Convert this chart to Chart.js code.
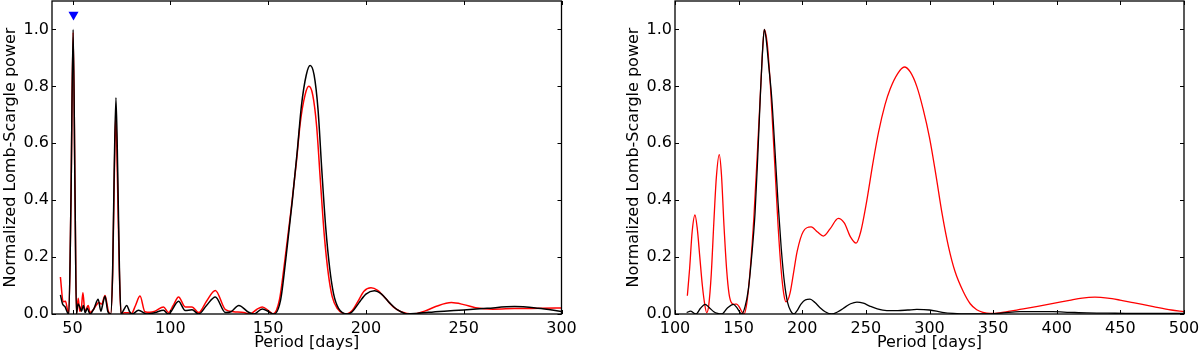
<!DOCTYPE html>
<html>
<head>
<meta charset="utf-8">
<script src="https://cdn.jsdelivr.net/npm/chart.js@4/dist/chart.umd.min.js"></script>
<style>
  body { margin: 0; background: #fff; }
  #wrap { position: relative; width: 1200px; height: 353px; }
  canvas { position: absolute; top: 0; }
  #left { left: 0; }
  #right { left: 600px; }
</style>
</head>
<body>
<div id="wrap">
  <canvas id="left" width="600" height="353"></canvas>
  <canvas id="right" width="600" height="353"></canvas>
</div>
<script>
// Left panel: periods 40-300 d
const leftTicksX = [50, 100, 150, 200, 250, 300];
const leftBlackP = [43.8, 44.9, 46.2, 47.4, 48.1, 49.2, 50.3, 51.3, 52.0, 52.8, 53.7, 54.6, 55.5, 56.5, 57.5, 59.0, 61.0, 63.1, 64.5, 65.3, 66.6, 68.0, 69.5, 70.5, 71.3, 72.2, 73.1, 74.0, 74.8, 76.2, 77.7, 79.2, 80.6, 83.7, 88.0, 92.2, 96.5, 99.0, 104.2, 107.6, 111.1, 114.5, 118.5, 123.0, 128.2, 131.0, 135.0, 140.0, 142.7, 147.0, 151.0, 153.0, 156.4, 159.0, 162.4, 165.0, 167.0, 169.5, 171.5, 173.5, 175.5, 177.5, 179.5, 181.5, 183.5, 186.0, 190.6, 193.0, 196.5, 200.0, 204.3, 208.0, 212.0, 216.0, 221.4, 226.0, 232.0, 240.0, 250.0, 262.0, 276.0, 288.0, 300.0];
const leftBlackPow = [0.067, 0.035, 0.025, 0.005, 0.0, 0.4, 1.0, 0.4, 0.0, 0.035, 0.025, 0.01, 0.03, 0.005, 0.02, 0.0, 0.02, 0.052, 0.01, 0.03, 0.062, 0.01, 0.0, 0.15, 0.5, 0.76, 0.5, 0.15, 0.0, 0.015, 0.03, 0.008, 0.0, 0.013, 0.0, 0.005, 0.013, 0.0, 0.045, 0.012, 0.015, 0.0, 0.03, 0.06, 0.005, 0.008, 0.03, 0.006, 0.0, 0.018, 0.005, 0.0, 0.05, 0.19, 0.4, 0.58, 0.73, 0.84, 0.873, 0.84, 0.72, 0.5, 0.3, 0.16, 0.07, 0.02, 0.0, 0.008, 0.04, 0.07, 0.082, 0.07, 0.04, 0.015, 0.0, 0.002, 0.006, 0.01, 0.014, 0.02, 0.026, 0.02, 0.009];
const leftRedP = [43.8, 45.2, 46.4, 47.4, 48.1, 49.2, 50.3, 51.3, 52.0, 52.9, 53.7, 54.5, 55.3, 56.3, 57.2, 58.0, 59.0, 60.6, 62.0, 63.5, 64.9, 66.6, 67.5, 68.3, 69.5, 70.5, 71.3, 72.1, 73.0, 74.0, 74.8, 76.5, 78.5, 80.0, 82.2, 84.5, 87.0, 89.5, 92.2, 96.5, 99.0, 101.5, 104.2, 107.6, 111.1, 114.5, 118.5, 123.0, 128.2, 132.4, 137.6, 140.5, 144.0, 147.0, 150.5, 152.5, 155.8, 158.4, 161.8, 164.4, 166.4, 168.9, 170.8, 172.8, 174.8, 176.8, 178.8, 180.8, 182.8, 185.3, 190.2, 193.0, 196.0, 199.0, 202.6, 206.0, 210.0, 214.0, 218.0, 224.0, 230.0, 236.0, 243.7, 250.0, 256.0, 265.0, 276.0, 290.0, 300.0];
const leftRedPow = [0.13, 0.043, 0.045, 0.015, 0.0, 0.4, 0.99, 0.4, 0.0, 0.055, 0.01, 0.02, 0.075, 0.01, 0.02, 0.03, 0.005, 0.015, 0.03, 0.04, 0.035, 0.065, 0.04, 0.01, 0.0, 0.14, 0.46, 0.70, 0.46, 0.13, 0.0, 0.004, 0.004, 0.0, 0.03, 0.063, 0.008, 0.006, 0.01, 0.025, 0.005, 0.03, 0.06, 0.025, 0.025, 0.005, 0.045, 0.083, 0.015, 0.008, 0.005, 0.0, 0.015, 0.025, 0.01, 0.0, 0.05, 0.18, 0.37, 0.53, 0.67, 0.77, 0.80, 0.77, 0.66, 0.46, 0.27, 0.14, 0.06, 0.02, 0.0, 0.012, 0.045, 0.08, 0.092, 0.083, 0.055, 0.025, 0.008, 0.0, 0.01, 0.027, 0.04, 0.033, 0.022, 0.017, 0.019, 0.02, 0.021];
const markerP = [50.5];
const markerPow = [1.052];

// Right panel: periods 100-500 d
const rightTicksX = [100, 150, 200, 250, 300, 350, 400, 450, 500];
const rightBlackP = [109.2, 112.3, 114.5, 116.5, 120, 123.6, 127, 130.5, 133.5, 136.7, 141, 145.8, 149, 152.4, 155, 157.6, 160, 162.9, 165, 167, 168.5, 170.2, 171.8, 173.5, 176, 178.5, 181, 183.5, 186, 188.5, 191, 193.5, 196, 199, 202.5, 206.1, 210, 214, 218, 223.2, 228, 234, 238, 243, 248, 253, 259, 266.4, 275, 283, 290, 300, 310, 318.7, 330, 345, 358, 371, 385, 397, 410, 423.5, 440, 460, 480, 500];
const rightBlackPow = [0.005, 0.01, 0.004, 0.0, 0.02, 0.034, 0.022, 0.008, 0.002, 0.0, 0.02, 0.034, 0.02, 0.0, 0.025, 0.085, 0.19, 0.354, 0.55, 0.76, 0.9, 1.0, 0.96, 0.88, 0.76, 0.58, 0.39, 0.23, 0.11, 0.04, 0.01, 0.0, 0.012, 0.035, 0.05, 0.052, 0.04, 0.022, 0.008, 0.0, 0.008, 0.025, 0.036, 0.042, 0.038, 0.028, 0.018, 0.012, 0.012, 0.014, 0.016, 0.014, 0.006, 0.002, 0.0, 0.0, 0.004, 0.008, 0.008, 0.008, 0.006, 0.004, 0.003, 0.002, 0.002, 0.002];
const rightRedP = [109.7, 111.5, 113.5, 115.7, 117.5, 119.5, 121.5, 123.5, 124.9, 126.5, 128.5, 130.5, 132.5, 134.8, 136.5, 138.5, 140.6, 142.5, 144.6, 146.5, 148.5, 150.5, 152.5, 154.2, 156.5, 159, 162, 165, 167.5, 169, 170.2, 172.5, 175, 177, 178.6, 181, 183.5, 185.5, 187.2, 188.8, 190.4, 193, 196, 200.8, 207, 212, 216.6, 222, 228.3, 233, 238, 242.3, 246, 250, 255.9, 260, 265, 269, 275, 280.2, 285, 290, 295, 300, 305, 310, 315, 320, 326.6, 332, 337.1, 342, 347.6, 355, 362, 371, 385, 397.3, 410, 420, 430, 440, 449.7, 460, 475.9, 490, 500];
const rightRedPow = [0.064, 0.16, 0.29, 0.348, 0.30, 0.20, 0.10, 0.03, 0.005, 0.03, 0.14, 0.32, 0.48, 0.56, 0.49, 0.31, 0.155, 0.07, 0.038, 0.034, 0.035, 0.025, 0.008, 0.0, 0.04, 0.15, 0.34, 0.59, 0.81, 0.94, 1.0, 0.95, 0.8, 0.64, 0.51, 0.31, 0.15, 0.07, 0.043, 0.05, 0.073, 0.14, 0.22, 0.29, 0.306, 0.288, 0.274, 0.3, 0.336, 0.32, 0.27, 0.249, 0.29, 0.38, 0.54, 0.64, 0.735, 0.79, 0.845, 0.868, 0.85, 0.80, 0.72, 0.62, 0.49, 0.35, 0.235, 0.15, 0.078, 0.036, 0.015, 0.006, 0.002, 0.004, 0.009, 0.016, 0.027, 0.037, 0.048, 0.056, 0.059, 0.056, 0.049, 0.04, 0.026, 0.014, 0.008];

const yTicks = [0, 0.2, 0.4, 0.6, 0.8, 1.0];
const FONT = 'DejaVu Sans';

function zip(xs, ys) {
    return xs.map((x, i) => ({ x: x, y: ys[i] }));
}

// matplotlib-style frame with inward ticks on all four sides
const frameTicks = {
    id: 'frameTicks',
    afterDatasetsDraw(chart) {
        const { ctx, chartArea: a, scales: { x, y } } = chart;
        ctx.save();
        ctx.strokeStyle = '#000';
        ctx.lineWidth = 1;
        ctx.beginPath();
        x.ticks.forEach(t => {
            const px = Math.round(x.getPixelForValue(t.value)) + 0.5;
            ctx.moveTo(px, a.bottom); ctx.lineTo(px, a.bottom - 4);
            ctx.moveTo(px, a.top); ctx.lineTo(px, a.top + 4);
        });
        y.ticks.forEach(t => {
            const py = Math.round(y.getPixelForValue(t.value)) + 0.5;
            ctx.moveTo(a.left, py); ctx.lineTo(a.left + 4, py);
            ctx.moveTo(a.right, py); ctx.lineTo(a.right - 4, py);
        });
        ctx.stroke();
        ctx.lineWidth = 1.3;
        ctx.strokeRect(a.left, a.top, a.right - a.left, a.bottom - a.top);
        ctx.restore();
    }
};

function makePanel(id, cfg) {
    const datasets = [
        { data: zip(cfg.blackP, cfg.blackPow), borderColor: '#000', borderWidth: cfg.lw, order: 1 },
        { data: zip(cfg.redP, cfg.redPow), borderColor: '#f00', borderWidth: cfg.lw, order: 2 }
    ];
    if (cfg.markP) {
        datasets.push({
            data: zip(cfg.markP, cfg.markPow), showLine: false, order: 0,
            pointStyle: 'triangle', rotation: 180, pointRadius: 5.8,
            pointBackgroundColor: '#0000ff', pointBorderWidth: 0
        });
    }
    return new Chart(document.getElementById(id), {
        type: 'line',
        data: { datasets: datasets },
        options: {
            responsive: false,
            animation: false,
            events: [],
            elements: {
                point: { radius: 0 },
                line: { cubicInterpolationMode: 'monotone', fill: false }
            },
            layout: { autoPadding: false, padding: { left: 0, right: cfg.padRight, top: 1, bottom: 0 } },
            plugins: { legend: { display: false }, tooltip: { enabled: false } },
            scales: {
                x: {
                    type: 'linear', min: cfg.xMin, max: cfg.xMax,
                    grid: { display: false, drawTicks: false }, border: { display: false },
                    afterBuildTicks: s => { s.ticks = cfg.ticksX.map(v => ({ value: v })); },
                    afterFit: s => { s.height = 39; s.paddingLeft = 0; s.paddingRight = 0; },
                    ticks: { autoSkip: false, maxRotation: 0, padding: 5, color: '#000', font: { family: FONT, size: 16 } },
                    title: { display: true, text: 'Period [days]', color: '#000', padding: { top: 0, bottom: 1 }, font: { family: FONT, size: 16 } }
                },
                y: {
                    min: 0, max: 1.1,
                    grid: { display: false, drawTicks: false }, border: { display: false },
                    afterBuildTicks: s => { s.ticks = yTicks.map(v => ({ value: v })); },
                    afterFit: s => { s.width = cfg.yWidth; s.paddingTop = 0; s.paddingBottom = 0; },
                    ticks: { padding: 3, color: '#000', font: { family: FONT, size: 16 }, callback: v => v.toFixed(1) },
                    title: { display: true, text: 'Normalized Lomb-Scargle power', color: '#000', padding: { top: cfg.titlePad, bottom: 0 }, font: { family: FONT, size: 16 } }
                }
            }
        },
        plugins: [frameTicks]
    });
}

makePanel('left', {
    blackP: leftBlackP, blackPow: leftBlackPow, redP: leftRedP, redPow: leftRedPow,
    markP: markerP, markPow: markerPow,
    ticksX: leftTicksX, xMin: 39.5, xMax: 300, yWidth: 52, padRight: 38.5, titlePad: 1.4, lw: 1.5
});
makePanel('right', {
    blackP: rightBlackP, blackPow: rightBlackPow, redP: rightRedP, redPow: rightRedPow,
    ticksX: rightTicksX, xMin: 100, xMax: 500, yWidth: 75, padRight: 16, titlePad: 24.4, lw: 1.3
});
</script>
</body>
</html>
